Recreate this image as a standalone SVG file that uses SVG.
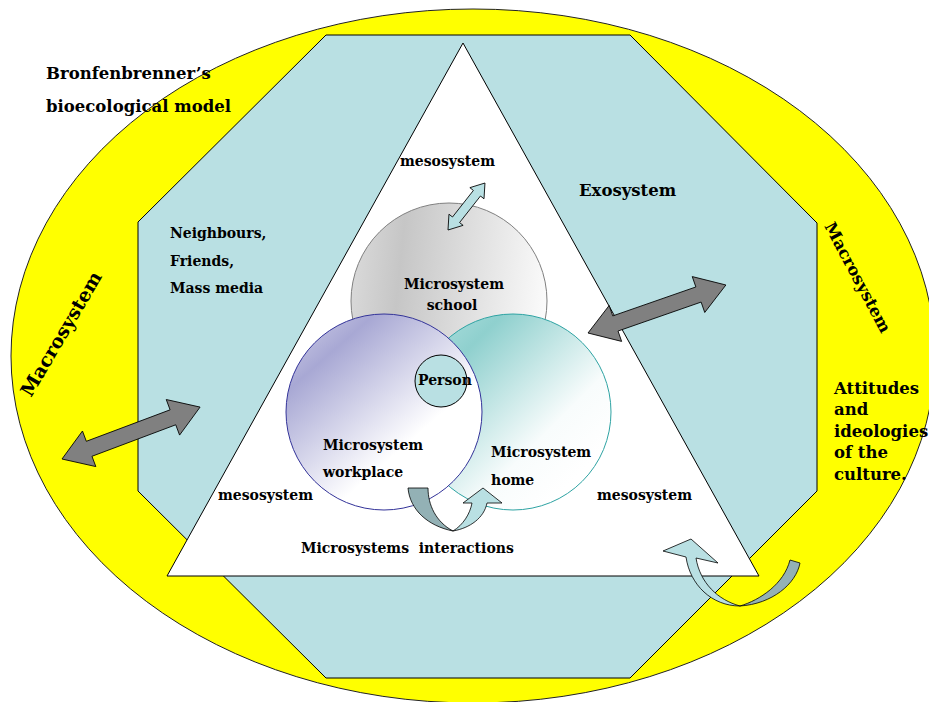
<svg xmlns="http://www.w3.org/2000/svg" width="929" height="702" viewBox="0 0 929 702">
<style>
text{font-family:"DejaVu Serif","Liberation Serif",serif;font-weight:bold;fill:#000}
.s{font-size:14px}
.m{font-size:16.5px}
.l{font-size:19px}
.gray{fill:#808080;stroke:#000;stroke-width:0.8}
.lb{fill:#B9E0E3;stroke:#000;stroke-width:0.8}
.dk{fill:#93B1B5;stroke:#000;stroke-width:0.8}
</style>
<defs>
<linearGradient id="gSchool" x1="0" y1="0.3" x2="1" y2="0.4">
<stop offset="0" stop-color="#DADADA"/>
<stop offset="0.25" stop-color="#C6C6C6"/>
<stop offset="1" stop-color="#FAFAFA"/>
</linearGradient>
<linearGradient id="gWork" x1="0.05" y1="0.1" x2="0.75" y2="0.9">
<stop offset="0" stop-color="#C4C4E2"/>
<stop offset="0.18" stop-color="#A8A8D4"/>
<stop offset="0.75" stop-color="#FFFFFF"/>
<stop offset="1" stop-color="#FFFFFF"/>
</linearGradient>
<linearGradient id="gHome" x1="0.05" y1="0.1" x2="0.8" y2="0.85">
<stop offset="0" stop-color="#A8DCDB"/>
<stop offset="0.2" stop-color="#8FD0CE"/>
<stop offset="0.75" stop-color="#F8FCFC"/>
<stop offset="1" stop-color="#FFFFFF"/>
</linearGradient>
</defs>

<g id="macrosystem">
<ellipse cx="473" cy="356" rx="462" ry="347" fill="#FFFF00" stroke="#222" stroke-width="1"/>
</g>
<g id="exosystem">
<polygon points="326,35 630,35 817,223 817,491 630,678 326,678 138,491 138,222" fill="#B9E0E3" stroke="#000" stroke-width="1"/>
</g>
<g id="mesosystem">
<polygon points="463,43 759,576 167,576" fill="#FFFFFF" stroke="#000" stroke-width="1"/>
</g>
<g id="school">
<circle cx="449" cy="301" r="98" fill="url(#gSchool)" stroke="#808080" stroke-width="1"/>
</g>
<g id="home">
<circle cx="513" cy="412" r="98" fill="url(#gHome)" stroke="#2EA3A3" stroke-width="1"/>
</g>
<g id="workplace">
<circle cx="384" cy="412" r="98" fill="url(#gWork)" stroke="#333399" stroke-width="1"/>
</g>
<g id="person">
<circle cx="441" cy="381" r="26" fill="#B9E0E3" stroke="#000" stroke-width="1"/>
</g>

<g id="connectors">
<polygon class="gray" transform="translate(62,459) rotate(-20.6)" points="0,0 29,-19 29,-8 118.5,-8 118.5,-19 147.5,0 118.5,19 118.5,8 29,8 29,19"/>
<polygon class="gray" transform="translate(588,333) rotate(-19.2)" points="0,0 29,-19 29,-8 117,-8 117,-19 146,0 117,19 117,8 29,8 29,19"/>
<polygon class="lb" transform="translate(448,230) rotate(-51.8)" points="0,0 13,-9 13,-4.5 46.8,-4.5 46.8,-9 59.8,0 46.8,9 46.8,4.5 13,4.5 13,9"/>
<path class="dk" d="M408,488 L428,488 C428,505 436,522 453,531 C428,526 410,510 408,488 Z"/>
<path class="lb" d="M453,531 C470,528 484,518 487,503 L502,503 L483,488 L463,503 L472,503 C470,514 463,525 453,531 Z"/>
<path class="dk" d="M790,560 L800,563 C796,584 772,604 740,606 C760,600 784,584 790,560 Z"/>
<path class="lb" d="M740,606 C712,606 690,585 686,557 L663,551 L691,539 L718,563 L696,558 C700,583 718,600 740,606 Z"/>
</g>

<g id="labels">
<text class="m" x="46" y="79">Bronfenbrenner’s</text>
<text class="m" x="46" y="112">bioecological model</text>
<text class="s" x="400" y="166">mesosystem</text>
<text class="m" x="579" y="196">Exosystem</text>
<text class="s" x="170" y="238">Neighbours,</text>
<text class="s" x="170" y="266">Friends,</text>
<text class="s" x="170" y="293">Mass media</text>
<text class="s" x="454" y="289" text-anchor="middle">Microsystem</text>
<text class="s" x="452" y="310" text-anchor="middle">school</text>
<text class="s" x="418" y="385">Person</text>
<text class="s" x="323" y="450">Microsystem</text>
<text class="s" x="323" y="477">workplace</text>
<text class="s" x="491" y="457">Microsystem</text>
<text class="s" x="491" y="485">home</text>
<text class="s" x="218" y="500">mesosystem</text>
<text class="s" x="597" y="500">mesosystem</text>
<text class="s" x="301" y="553" xml:space="preserve">Microsystems  interactions</text>
<text class="m" x="834" y="394">Attitudes</text>
<text class="m" x="834" y="415">and</text>
<text class="m" x="834" y="437">ideologies</text>
<text class="m" x="834" y="458">of the</text>
<text class="m" x="834" y="480">culture.</text>
<text class="m" transform="translate(824,226) rotate(62)">Macrosystem</text>
<text class="l" transform="translate(31,398) rotate(-59.5)">Macrosystem</text>
</g>
</svg>
